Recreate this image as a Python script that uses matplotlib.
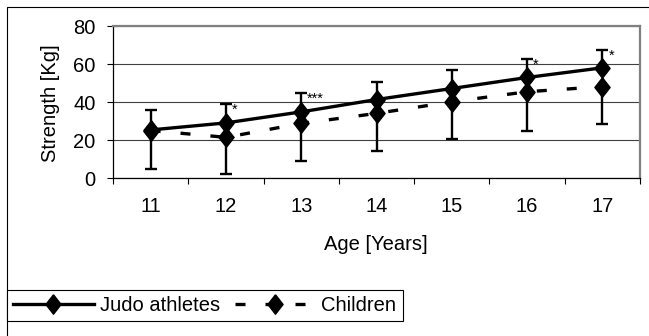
import matplotlib
matplotlib.use("Agg")
import matplotlib.pyplot as plt
from matplotlib.patches import Rectangle
import numpy as np

plt.rcParams["font.family"] = ["Liberation Sans", "DejaVu Sans"]

ages = ["11", "12", "13", "14", "15", "16", "17"]
judo = [25.3, 29.0, 34.8, 41.3, 47.1, 52.9, 58.0]
children = [25.0, 21.4, 28.7, 34.0, 40.1, 45.4, 48.1]
judo_err_up = [10.5, 10.0, 10.0, 9.0, 9.6, 9.7, 9.3]
children_err_down = [20.4, 19.4, 19.7, 19.7, 19.8, 20.4, 19.9]
stars = ["", "*", "***", "", "", "*", "*"]

W, H = 649, 336
FS = 14.5
fig = plt.figure(figsize=(W / 100, H / 100), dpi=100)

# outer chart frame
fig.patches.append(Rectangle((7 / W, -0.1), 1.1, 1 - 7 / H + 0.1, transform=fig.transFigure,
                             fill=False, edgecolor="black", linewidth=0.8))

ax = fig.add_axes([113 / W, 1 - 178 / H, (640 - 113) / W, (178 - 26) / H])
x = np.arange(1, len(ages) + 1)

diamond = [(0, 1), (0.78, 0), (0, -1), (-0.78, 0), (0, 1)]

ax.errorbar(x, judo, yerr=[np.zeros(len(x)), judo_err_up], fmt="none",
            ecolor="black", elinewidth=1.7, capsize=4.2, capthick=1.7, zorder=3)
ax.errorbar(x, children, yerr=[children_err_down, np.zeros(len(x))], fmt="none",
            ecolor="black", elinewidth=1.7, capsize=4.2, capthick=1.7, zorder=3)

ax.plot(x, children, color="black", linewidth=2.4, dashes=(3.0, 6.0),
        marker=diamond, markersize=14, label="Children", zorder=4)
ax.plot(x, judo, color="black", linewidth=2.4, marker=diamond, markersize=14,
        label="Judo athletes", zorder=5)

for xi, yi, e, s in zip(x, judo, judo_err_up, stars):
    if s:
        ax.text(xi + 0.08, yi + e + 0.8, s, fontsize=10.5, ha="left", va="top")

ax.set_xlim(0.5, len(ages) + 0.5)
ax.set_ylim(0, 80)
ax.set_yticks([0, 20, 40, 60, 80])
ax.yaxis.grid(True, color="#404040", linewidth=0.8)
ax.set_axisbelow(True)

ax.set_xticks(np.arange(0.5, len(ages) + 1, 1))
ax.set_xticklabels([])
ax.set_xticks(x, minor=True)
ax.set_xticklabels(ages, minor=True)
ax.tick_params(axis="x", which="major", length=4.5, width=0.8, direction="out")
ax.tick_params(axis="x", which="minor", length=0, pad=14, labelsize=FS)
ax.tick_params(axis="y", length=4, width=0.8, pad=8.5, labelsize=FS)

for side in ["top", "right"]:
    ax.spines[side].set_color("#808080")
    ax.spines[side].set_linewidth(1.6)
for side in ["left", "bottom"]:
    ax.spines[side].set_color("black")
    ax.spines[side].set_linewidth(0.9)

fig.text(50 / W, 1 - 103 / H, "Strength [Kg]", rotation=90, ha="center", va="center", fontsize=FS)
fig.text(376 / W, 1 - 245 / H, "Age [Years]", ha="center", va="center", fontsize=FS)

handles, labels = ax.get_legend_handles_labels()
leg = fig.legend(handles[::-1], labels[::-1], loc="upper left",
                 bbox_to_anchor=(7 / W, 1 - 290 / H), ncol=2, fontsize=FS,
                 frameon=True, fancybox=False, edgecolor="black", framealpha=1,
                 handlelength=4.0, handletextpad=0.3, columnspacing=0.75,
                 borderpad=0.3, borderaxespad=0)
leg.get_frame().set_linewidth(0.8)

fig.savefig("out.png", dpi=100)
